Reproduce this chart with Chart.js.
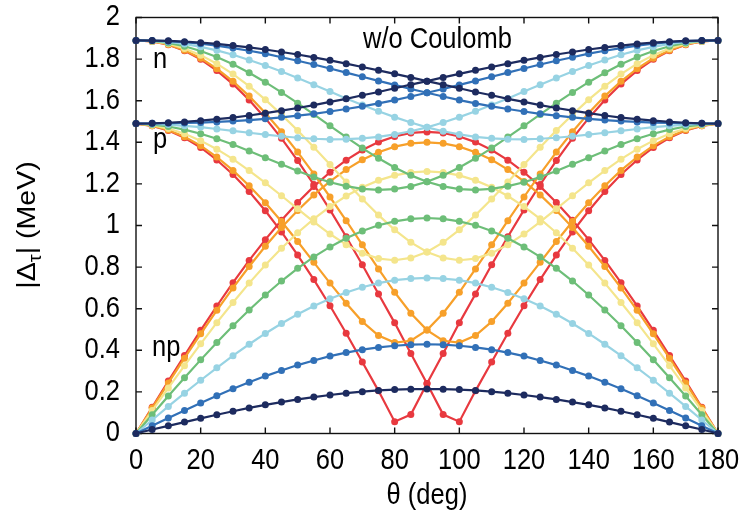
<!DOCTYPE html>
<html>
<head>
<meta charset="utf-8">
<script src="https://cdn.jsdelivr.net/npm/chart.js@4.4.1/dist/chart.umd.min.js"></script>
<style>
  html, body { margin: 0; padding: 0; background: #fff; }
</style>
</head>
<body>
<canvas id="chart" width="748" height="519"></canvas>
<script>
// rotation angle (deg)
const theta = [0, 5, 10, 15, 20, 25, 30, 35, 40, 45, 50, 55, 60, 65, 70, 75, 80, 85, 90,
  95, 100, 105, 110, 115, 120, 125, 130, 135, 140, 145, 150, 155, 160, 165, 170, 175, 180];

// |Delta_tau| (MeV), one colour = one curve family
const navyN = [1.890, 1.889, 1.888, 1.884, 1.879, 1.873, 1.865, 1.856, 1.846, 1.834, 1.822, 1.808, 1.794, 1.778, 1.762, 1.746, 1.729, 1.712, 1.694, 1.677, 1.660, 1.642, 1.626, 1.609, 1.594, 1.579, 1.565, 1.552, 1.540, 1.529, 1.519, 1.511, 1.504, 1.498, 1.494, 1.491, 1.490];
const navyP = [1.490, 1.491, 1.494, 1.498, 1.504, 1.511, 1.519, 1.529, 1.540, 1.552, 1.565, 1.579, 1.594, 1.609, 1.626, 1.642, 1.660, 1.677, 1.694, 1.712, 1.729, 1.746, 1.762, 1.778, 1.794, 1.808, 1.822, 1.834, 1.846, 1.856, 1.865, 1.873, 1.879, 1.884, 1.888, 1.889, 1.890];
const navyNP = [0, 0.019, 0.037, 0.055, 0.073, 0.090, 0.107, 0.123, 0.138, 0.151, 0.164, 0.175, 0.185, 0.194, 0.201, 0.207, 0.211, 0.213, 0.214, 0.213, 0.211, 0.207, 0.201, 0.194, 0.185, 0.175, 0.164, 0.151, 0.138, 0.123, 0.107, 0.090, 0.073, 0.055, 0.037, 0.019, 0];

const blueN = [1.890, 1.889, 1.886, 1.881, 1.874, 1.865, 1.853, 1.840, 1.826, 1.809, 1.792, 1.774, 1.755, 1.735, 1.715, 1.695, 1.676, 1.656, 1.638, 1.620, 1.603, 1.587, 1.573, 1.560, 1.548, 1.537, 1.528, 1.520, 1.513, 1.507, 1.502, 1.498, 1.495, 1.493, 1.492, 1.491, 1.490];
const blueP = [1.490, 1.491, 1.492, 1.493, 1.495, 1.498, 1.502, 1.507, 1.513, 1.520, 1.528, 1.537, 1.548, 1.560, 1.573, 1.587, 1.603, 1.620, 1.638, 1.656, 1.676, 1.695, 1.715, 1.735, 1.755, 1.774, 1.792, 1.809, 1.826, 1.840, 1.853, 1.865, 1.874, 1.881, 1.886, 1.889, 1.890];
const blueNP = [0, 0.037, 0.074, 0.111, 0.147, 0.181, 0.215, 0.246, 0.276, 0.303, 0.329, 0.351, 0.372, 0.389, 0.403, 0.414, 0.422, 0.427, 0.429, 0.427, 0.422, 0.414, 0.403, 0.389, 0.372, 0.351, 0.329, 0.303, 0.276, 0.246, 0.215, 0.181, 0.147, 0.111, 0.074, 0.037, 0];

const lightBlueN = [1.890, 1.888, 1.883, 1.873, 1.859, 1.842, 1.821, 1.796, 1.769, 1.740, 1.709, 1.677, 1.644, 1.611, 1.579, 1.549, 1.521, 1.495, 1.472, 1.453, 1.438, 1.426, 1.419, 1.415, 1.414, 1.417, 1.422, 1.429, 1.437, 1.446, 1.455, 1.464, 1.473, 1.479, 1.485, 1.488, 1.490];
const lightBlueP = [1.490, 1.488, 1.485, 1.479, 1.473, 1.464, 1.455, 1.446, 1.437, 1.429, 1.422, 1.417, 1.414, 1.415, 1.419, 1.426, 1.438, 1.453, 1.472, 1.495, 1.521, 1.549, 1.579, 1.611, 1.644, 1.677, 1.709, 1.740, 1.769, 1.796, 1.821, 1.842, 1.859, 1.873, 1.883, 1.888, 1.890];
const lightBlueNP = [0, 0.065, 0.130, 0.194, 0.256, 0.316, 0.374, 0.429, 0.481, 0.529, 0.573, 0.613, 0.648, 0.678, 0.703, 0.723, 0.737, 0.745, 0.748, 0.745, 0.737, 0.723, 0.703, 0.678, 0.648, 0.613, 0.573, 0.529, 0.481, 0.429, 0.374, 0.316, 0.256, 0.194, 0.130, 0.065, 0];

const greenN = [1.890, 1.887, 1.878, 1.862, 1.839, 1.810, 1.775, 1.734, 1.689, 1.640, 1.588, 1.534, 1.479, 1.425, 1.372, 1.323, 1.279, 1.241, 1.210, 1.188, 1.175, 1.171, 1.176, 1.189, 1.208, 1.233, 1.262, 1.294, 1.326, 1.358, 1.389, 1.417, 1.441, 1.461, 1.476, 1.485, 1.490];
const greenP = [1.490, 1.485, 1.476, 1.461, 1.441, 1.417, 1.389, 1.358, 1.326, 1.294, 1.262, 1.233, 1.208, 1.189, 1.176, 1.171, 1.175, 1.188, 1.210, 1.241, 1.279, 1.323, 1.372, 1.425, 1.479, 1.534, 1.588, 1.640, 1.689, 1.734, 1.775, 1.810, 1.839, 1.862, 1.878, 1.887, 1.890];
const greenNP = [0, 0.090, 0.180, 0.268, 0.354, 0.438, 0.518, 0.594, 0.666, 0.733, 0.794, 0.849, 0.897, 0.939, 0.974, 1.001, 1.020, 1.032, 1.036, 1.032, 1.020, 1.001, 0.974, 0.939, 0.897, 0.849, 0.794, 0.733, 0.666, 0.594, 0.518, 0.438, 0.354, 0.268, 0.180, 0.090, 0];

const yellowN = [1.890, 1.886, 1.874, 1.851, 1.819, 1.778, 1.728, 1.670, 1.605, 1.533, 1.457, 1.376, 1.293, 1.209, 1.127, 1.050, 0.979, 0.919, 0.873, 0.844, 0.833, 0.841, 0.867, 0.908, 0.959, 1.017, 1.080, 1.143, 1.205, 1.264, 1.319, 1.367, 1.408, 1.441, 1.466, 1.482, 1.490];
const yellowP = [1.490, 1.482, 1.466, 1.441, 1.408, 1.367, 1.319, 1.264, 1.205, 1.143, 1.080, 1.017, 0.959, 0.908, 0.867, 0.841, 0.833, 0.844, 0.873, 0.919, 0.979, 1.050, 1.127, 1.209, 1.293, 1.376, 1.457, 1.533, 1.605, 1.670, 1.728, 1.778, 1.819, 1.851, 1.874, 1.886, 1.890];
const yellowNP = [0, 0.110, 0.219, 0.326, 0.431, 0.533, 0.630, 0.723, 0.810, 0.891, 0.965, 1.032, 1.091, 1.142, 1.184, 1.217, 1.241, 1.255, 1.260, 1.255, 1.241, 1.217, 1.184, 1.142, 1.091, 1.032, 0.965, 0.891, 0.810, 0.723, 0.630, 0.533, 0.431, 0.326, 0.219, 0.110, 0];

const orangeN = [1.890, 1.885, 1.870, 1.843, 1.804, 1.754, 1.693, 1.622, 1.541, 1.451, 1.353, 1.248, 1.137, 1.023, 0.907, 0.791, 0.679, 0.578, 0.497, 0.446, 0.437, 0.471, 0.538, 0.626, 0.723, 0.823, 0.923, 1.019, 1.109, 1.191, 1.265, 1.329, 1.384, 1.427, 1.459, 1.480, 1.490];
const orangeP = [1.490, 1.480, 1.459, 1.427, 1.384, 1.329, 1.265, 1.191, 1.109, 1.019, 0.923, 0.823, 0.723, 0.626, 0.538, 0.471, 0.437, 0.446, 0.497, 0.578, 0.679, 0.791, 0.907, 1.023, 1.137, 1.248, 1.353, 1.451, 1.541, 1.622, 1.693, 1.754, 1.804, 1.843, 1.870, 1.885, 1.890];
const orangeNP = [0, 0.122, 0.243, 0.362, 0.479, 0.592, 0.700, 0.803, 0.900, 0.990, 1.072, 1.147, 1.212, 1.269, 1.316, 1.352, 1.379, 1.395, 1.400, 1.395, 1.379, 1.352, 1.316, 1.269, 1.212, 1.147, 1.072, 0.990, 0.900, 0.803, 0.700, 0.592, 0.479, 0.362, 0.243, 0.122, 0];

const redN = [1.890, 1.885, 1.869, 1.840, 1.799, 1.745, 1.680, 1.603, 1.516, 1.419, 1.312, 1.197, 1.075, 0.946, 0.811, 0.671, 0.532, 0.385, 0.240, 0.091, 0.057, 0.205, 0.344, 0.482, 0.614, 0.740, 0.858, 0.969, 1.071, 1.163, 1.245, 1.315, 1.375, 1.422, 1.457, 1.479, 1.490];
const redP = [1.490, 1.479, 1.457, 1.422, 1.375, 1.315, 1.245, 1.163, 1.071, 0.969, 0.858, 0.740, 0.614, 0.482, 0.344, 0.205, 0.057, 0.091, 0.240, 0.385, 0.532, 0.671, 0.811, 0.946, 1.075, 1.197, 1.312, 1.419, 1.516, 1.603, 1.680, 1.745, 1.799, 1.840, 1.869, 1.885, 1.890];
const redNP = [0, 0.126, 0.252, 0.375, 0.496, 0.613, 0.725, 0.832, 0.932, 1.025, 1.111, 1.188, 1.256, 1.314, 1.363, 1.401, 1.428, 1.445, 1.450, 1.445, 1.428, 1.401, 1.363, 1.314, 1.256, 1.188, 1.111, 1.025, 0.932, 0.832, 0.725, 0.613, 0.496, 0.375, 0.252, 0.126, 0];

const xTicks = [0, 20, 40, 60, 80, 100, 120, 140, 160, 180];
const yTicks = [0, 0.2, 0.4, 0.6, 0.8, 1, 1.2, 1.4, 1.6, 1.8, 2];

// Chart.js paints dataset 0 last, so navy (first here) ends up on top
const families = [
  { color: "#1d2b5f", curves: [navyN, navyP, navyNP] },
  { color: "#3170b7", curves: [blueN, blueP, blueNP] },
  { color: "#97d3e3", curves: [lightBlueN, lightBlueP, lightBlueNP] },
  { color: "#6dbe78", curves: [greenN, greenP, greenNP] },
  { color: "#f4e58c", curves: [yellowN, yellowP, yellowNP] },
  { color: "#f7a02a", curves: [orangeN, orangeP, orangeNP] },
  { color: "#e8393f", curves: [redN, redP, redNP] },
];

const FONT = '"Liberation Sans", Arial, Helvetica, sans-serif';
const FS = 25.5;   // font px
const SY = 1.12;   // the original lettering is a bit taller than wide

const datasets = [];
families.forEach(f => {
  f.curves.forEach(vals => {
    datasets.push({
      data: theta.map((t, i) => ({ x: t, y: vals[i] })),
      borderColor: f.color,
      backgroundColor: f.color,
      pointBackgroundColor: f.color,
      pointBorderWidth: 0,
      pointRadius: 3.5,
      pointHoverRadius: 3.5,
      borderWidth: 2.2,
      tension: 0,
      clip: false,
    });
  });
});

function putText(ctx, str, x, y, align, baseline, size) {
  ctx.save();
  ctx.translate(x, y);
  ctx.scale(1, SY);
  ctx.font = `${size || FS}px ${FONT}`;
  ctx.textAlign = align;
  ctx.textBaseline = baseline;
  ctx.fillText(str, 0, 0);
  ctx.restore();
}

// box + inward ticks on all four sides (gnuplot style)
const framePlugin = {
  id: "frame",
  beforeDatasetsDraw(chart) {
    const { ctx, chartArea: a, scales: { x, y } } = chart;
    ctx.save();
    ctx.strokeStyle = "#111";
    ctx.lineWidth = 1.4;
    ctx.strokeRect(a.left, a.top, a.right - a.left, a.bottom - a.top);
    ctx.beginPath();
    const tl = 6;
    xTicks.forEach(v => {
      const px = x.getPixelForValue(v);
      ctx.moveTo(px, a.bottom); ctx.lineTo(px, a.bottom - tl);
      ctx.moveTo(px, a.top); ctx.lineTo(px, a.top + tl);
    });
    yTicks.forEach(v => {
      const py = y.getPixelForValue(v);
      ctx.moveTo(a.left, py); ctx.lineTo(a.left + tl, py);
      ctx.moveTo(a.right, py); ctx.lineTo(a.right - tl, py);
    });
    ctx.stroke();
    ctx.restore();
  },
};

// all lettering: tick labels, axis titles, curve names
const labelPlugin = {
  id: "labels",
  afterDraw(chart) {
    const { ctx, chartArea: a, scales: { x, y } } = chart;
    ctx.save();
    ctx.fillStyle = "#000";
    xTicks.forEach(v => putText(ctx, String(v), x.getPixelForValue(v), a.bottom + 28, "center", "middle"));
    yTicks.forEach(v => putText(ctx, String(v), a.left - 16, y.getPixelForValue(v), "right", "middle"));
    putText(ctx, "\u03b8 (deg)", (a.left + a.right) / 2, 496, "center", "middle");

    putText(ctx, "n", 153, 68, "left", "alphabetic");
    putText(ctx, "p", 153, 148, "left", "alphabetic");
    putText(ctx, "np", 152, 356, "left", "alphabetic");
    putText(ctx, "w/o Coulomb", 363, 48, "left", "alphabetic");

    // |Δτ| (MeV), rotated
    ctx.translate(35, 225);
    ctx.rotate(-Math.PI / 2);
    ctx.scale(SY, 1);
    ctx.textBaseline = "alphabetic";
    ctx.textAlign = "left";
    const big = `${FS}px ${FONT}`, small = `${FS * 0.7}px ${FONT}`;
    const parts = [["|\u0394", big, 0], ["\u03c4", small, 6], ["| (MeV)", big, 0]];
    let w = 0;
    parts.forEach(p => { ctx.font = p[1]; w += ctx.measureText(p[0]).width; });
    let cx = -w / 2;
    parts.forEach(p => {
      ctx.font = p[1];
      ctx.fillText(p[0], cx, p[2]);
      cx += ctx.measureText(p[0]).width;
    });
    ctx.restore();
  },
};

new Chart(document.getElementById("chart"), {
  type: "line",
  data: { datasets },
  plugins: [framePlugin, labelPlugin],
  options: {
    responsive: false,
    animation: false,
    devicePixelRatio: 1,
    layout: { padding: { left: 0, right: 30, top: 17.5, bottom: 0 } },
    plugins: { legend: { display: false }, tooltip: { enabled: false } },
    scales: {
      x: {
        type: "linear",
        min: 0,
        max: 180,
        afterFit: s => { s.height = 85.5; },
        afterBuildTicks: s => { s.ticks = xTicks.map(v => ({ value: v })); },
        grid: { display: false, drawTicks: false },
        border: { display: false },
        ticks: { display: false },
      },
      y: {
        min: 0,
        max: 2,
        afterFit: s => { s.width = 136; },
        afterBuildTicks: s => { s.ticks = yTicks.map(v => ({ value: v })); },
        grid: { display: false, drawTicks: false },
        border: { display: false },
        ticks: { display: false },
      },
    },
  },
});
</script>
</body>
</html>
